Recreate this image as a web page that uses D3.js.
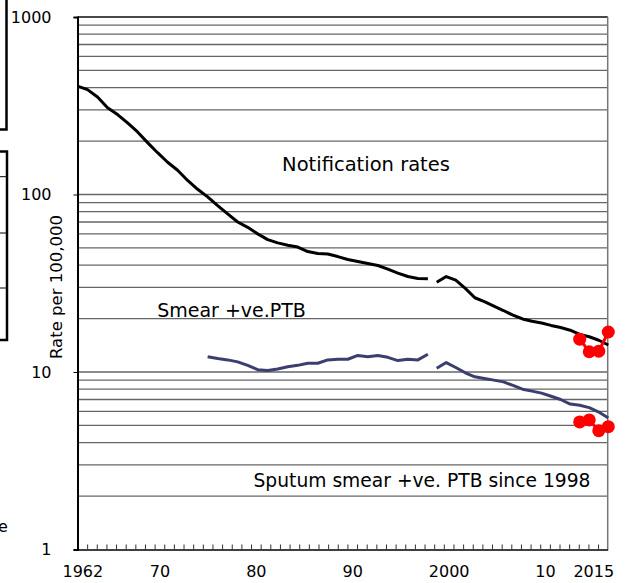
<!DOCTYPE html>
<html>
<head>
<meta charset="utf-8">
<script src="https://cdn.jsdelivr.net/npm/d3@7/dist/d3.min.js"></script>
<style>
  body { margin: 0; background: #fff; }
  svg { display: block; font-family: "DejaVu Sans", Verdana, sans-serif; }
</style>
</head>
<body>
<script>
// years
var years1 = d3.range(1962, 1998);   // 1962..1997
var years2 = d3.range(1998, 2017);   // 1998..2016
var smearYears1 = d3.range(1975, 1998);
var redYears = [2013, 2014, 2015, 2016];

// notification rates (per 100,000)
var notif1 = [408, 390, 354, 308, 282, 253, 225, 196, 172, 152, 137, 120, 107, 97, 86.5, 77.7, 70.0, 65.3,
  60.0, 55.7, 53.4, 51.8, 50.6, 47.7, 46.5, 46.2, 44.7, 43.0, 41.9, 40.9, 39.8, 38.0, 36.1, 34.5, 33.6, 33.5];
var notif2 = [32.0, 34.5, 32.9, 29.6, 26.2, 24.9, 23.5, 22.2, 20.9, 19.9, 19.3, 18.9, 18.3, 17.8, 17.2, 16.3, 15.8, 15.1, 14.2];

// smear positive PTB
var smear1 = [12.2, 11.9, 11.7, 11.4, 10.9, 10.3, 10.2, 10.4, 10.7, 10.9, 11.2, 11.2, 11.7, 11.8, 11.8, 12.4,
  12.2, 12.4, 12.1, 11.6, 11.8, 11.7, 12.6];
var smear2 = [10.5, 11.3, 10.6, 9.9, 9.4, 9.2, 9.0, 8.8, 8.4, 8.0, 7.8, 7.6, 7.3, 7.0, 6.6, 6.5, 6.3, 5.95, 5.5];

// red markers
var redNotif = [15.3, 13.0, 13.1, 16.8];
var redSmear = [5.23, 5.37, 4.67, 4.92];

var xLabels = [1962, 1970, 1980, 1990, 2000, 2010, 2015];
var xLabelText = ["1962", "70", "80", "90", "2000", "10", "2015"];
var yMajor = [1, 10, 100, 1000];

var W = 625, H = 583;
var pL = 77.5, pR = 607.7, pT = 17, pB = 549.5;

var svg = d3.select("body").append("svg").attr("width", W).attr("height", H);

// the two periods were plotted on slightly different spacings
var x = d3.scaleLinear().domain([1962, 1997, 1998, 2016]).range([pL, 427.9, 436.7, 608.3]);
var xTick = d3.scaleLinear().domain([1961.5, 2016.5]).range([pL, pR]);
var y = d3.scaleLog().domain([1, 1000]).range([pB, pT]);

// cropped bits of neighbouring panels at left edge
svg.append("rect").attr("x", -10).attr("y", -5).attr("width", 16.5).attr("height", 134.5)
  .attr("fill", "none").attr("stroke", "#000").attr("stroke-width", 2.5);
svg.append("rect").attr("x", -10).attr("y", 151.5).attr("width", 17).attr("height", 188.5)
  .attr("fill", "none").attr("stroke", "#000").attr("stroke-width", 2.5);
[176.7, 233, 288].forEach(function (v) {
  svg.append("line").attr("x1", 0).attr("x2", 6).attr("y1", v).attr("y2", v)
    .attr("stroke", "#000").attr("stroke-width", 1);
});
svg.append("text").attr("x", -2).attr("y", 532).attr("font-size", 16).text("e");

// gridlines
var grid = [];
[1, 10, 100].forEach(function (d) {
  d3.range(2, 11).forEach(function (m) { grid.push(m * d); });
});
svg.append("g").selectAll("line").data(grid).enter().append("line")
  .attr("x1", pL).attr("x2", pR)
  .attr("y1", function (d) { return y(d); }).attr("y2", function (d) { return y(d); })
  .attr("stroke", "#666").attr("stroke-width", 1.3);

// frame top & right
svg.append("line").attr("x1", pL).attr("x2", pR).attr("y1", pT).attr("y2", pT)
  .attr("stroke", "#333").attr("stroke-width", 1.5);
svg.append("line").attr("x1", pR).attr("x2", pR).attr("y1", pT).attr("y2", pB)
  .attr("stroke", "#777").attr("stroke-width", 1.5);

// y axis
var yAxis = svg.append("g").attr("transform", "translate(" + pL + ",0)")
  .call(d3.axisLeft(y).tickValues(yMajor).tickSize(4).tickPadding(22).tickFormat(d3.format("d")));
yAxis.select(".domain").attr("stroke", "#000").attr("stroke-width", 2);
yAxis.selectAll("text").attr("font-size", 16).attr("fill", "#000").attr("font-family", "DejaVu Sans");

// x axis: minor ticks pointing in
var xAxis = svg.append("g").attr("transform", "translate(0," + pB + ")")
  .call(d3.axisBottom(xTick).tickValues(d3.range(1962.5, 2016, 1)).tickSizeInner(-5).tickSizeOuter(0).tickFormat(""));
xAxis.select(".domain").attr("stroke", "#000").attr("stroke-width", 1.5);
xAxis.selectAll(".tick line").attr("stroke", "#333");

var xLab = svg.append("g").attr("transform", "translate(0," + pB + ")")
  .call(d3.axisBottom(xTick).tickValues(xLabels).tickSize(0).tickPadding(16)
    .tickFormat(function (d, i) { return xLabelText[i]; }));
xLab.select(".domain").remove();
xLab.selectAll("text").attr("font-size", 16).attr("fill", "#000").attr("font-family", "DejaVu Sans");

// lines
var line = d3.line().x(function (d) { return x(d[0]); }).y(function (d) { return y(d[1]); });
function pairs(ys, vs) { return ys.map(function (yr, i) { return [yr, vs[i]]; }); }

[[years1, notif1, "#000"], [years2, notif2, "#000"],
 [smearYears1, smear1, "#3b3e6e"], [years2, smear2, "#3b3e6e"]].forEach(function (s) {
  svg.append("path").datum(pairs(s[0], s[1])).attr("d", line)
    .attr("fill", "none").attr("stroke", s[2]).attr("stroke-width", 3).attr("stroke-linejoin", "round");
});

// red markers
[redNotif, redSmear].forEach(function (vals) {
  var pts = pairs(redYears, vals);
  svg.append("path").datum(pts).attr("d", line).attr("fill", "none")
    .attr("stroke", "#ff0000").attr("stroke-width", 3);
  svg.append("g").selectAll("circle").data(pts).enter().append("circle")
    .attr("cx", function (d) { return x(d[0]); }).attr("cy", function (d) { return y(d[1]); })
    .attr("r", 6.5).attr("fill", "#ff0000");
});

// labels
svg.append("text").attr("x", 366).attr("y", 171).attr("text-anchor", "middle")
  .attr("font-size", 19.5).text("Notification rates");
svg.append("text").attr("x", 231.5).attr("y", 317).attr("text-anchor", "middle")
  .attr("font-size", 19).text("Smear +ve.PTB");
svg.append("text").attr("x", 422).attr("y", 487).attr("text-anchor", "middle")
  .attr("font-size", 18.7).text("Sputum smear +ve. PTB since 1998");
svg.append("text").attr("transform", "translate(62,287) rotate(-90)").attr("text-anchor", "middle")
  .attr("font-size", 16.5).text("Rate per 100,000");
</script>
</body>
</html>
